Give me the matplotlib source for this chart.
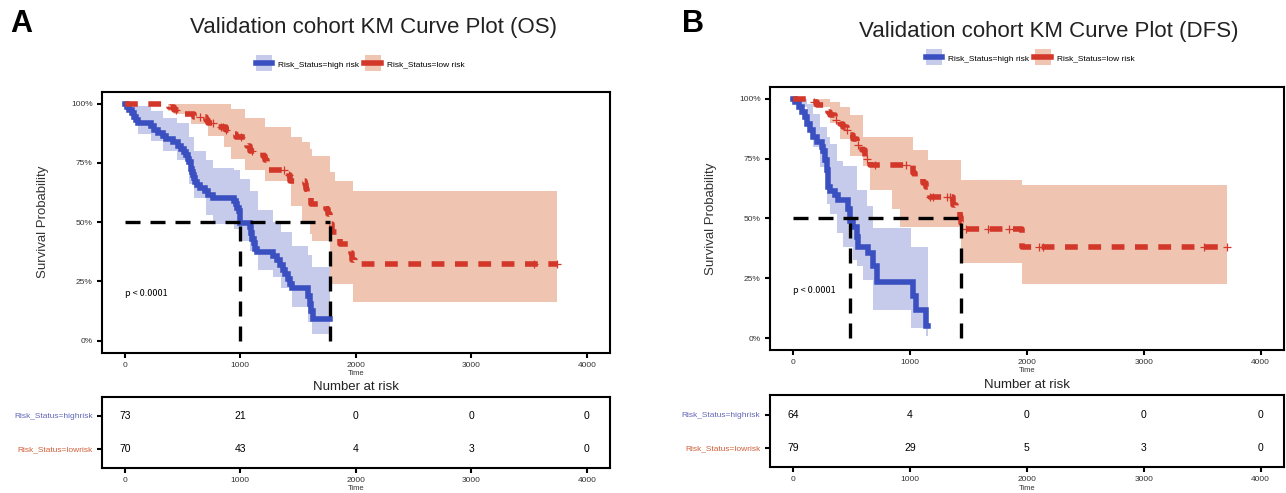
import numpy as np
import matplotlib
matplotlib.use('Agg')
import matplotlib.pyplot as plt
from matplotlib.lines import Line2D

plt.rcParams['font.family'] = ['Liberation Sans', 'DejaVu Sans']

# ---------------- data: OS (panel A) ----------------
os_hi_t = [0, 20, 40, 60, 80, 95, 110, 225, 250, 290, 330, 360, 420, 460, 490, 510, 530,
           545, 560, 575, 585, 590, 600, 610, 625, 650, 690, 720, 760, 945, 960, 975, 985,
           997, 1080, 1095, 1105, 1115, 1130, 1145, 1285, 1320, 1345, 1370, 1390, 1410,
           1430, 1445, 1590, 1605, 1615, 1625, 1780]
os_hi_s = [1.0, 0.986, 0.973, 0.959, 0.945, 0.932, 0.918, 0.904, 0.890, 0.877, 0.863,
           0.849, 0.836, 0.822, 0.808, 0.795, 0.781, 0.767, 0.753, 0.726, 0.712, 0.699,
           0.685, 0.671, 0.658, 0.644, 0.630, 0.616, 0.603, 0.589, 0.575, 0.561, 0.547,
           0.497, 0.480, 0.455, 0.430, 0.410, 0.385, 0.372, 0.355, 0.340, 0.320, 0.300,
           0.280, 0.260, 0.240, 0.220, 0.190, 0.155, 0.125, 0.090, 0.090]
os_hi_ci_t = [0, 60, 110, 225, 330, 450, 560, 600, 700, 760, 945, 1000, 1080, 1150, 1280,
              1350, 1450, 1590, 1620, 1780]
os_hi_ci_up = [1.0, 1.0, 0.99, 0.97, 0.94, 0.92, 0.86, 0.80, 0.76, 0.73, 0.72, 0.68, 0.63,
               0.55, 0.50, 0.46, 0.40, 0.36, 0.31, 0.31]
os_hi_ci_lo = [1.0, 0.93, 0.87, 0.84, 0.80, 0.76, 0.66, 0.60, 0.53, 0.49, 0.47, 0.42, 0.38,
               0.30, 0.27, 0.22, 0.14, 0.08, 0.03, 0.03]

os_lo_t = [0, 380, 430, 520, 600, 700, 720, 800, 880, 920, 960, 1050, 1060, 1080, 1200,
           1215, 1230, 1250, 1420, 1430, 1560, 1570, 1580, 1600, 1610, 1745, 1760, 1775,
           1790, 1850, 1860, 1960, 1970, 1990, 3745]
os_lo_s = [1.0, 0.986, 0.972, 0.958, 0.944, 0.930, 0.916, 0.902, 0.888, 0.872, 0.857,
           0.840, 0.820, 0.800, 0.780, 0.760, 0.740, 0.720, 0.700, 0.675, 0.660, 0.640,
           0.620, 0.600, 0.577, 0.555, 0.535, 0.490, 0.458, 0.430, 0.409, 0.370, 0.340,
           0.325, 0.325]
os_lo_ci_t = [0, 370, 430, 570, 720, 860, 920, 1040, 1210, 1440, 1530, 1600, 1620, 1775,
              1820, 1975, 3745]
os_lo_ci_up = [1, 1, 1, 1, 1, 1, 0.976, 0.94, 0.90, 0.857, 0.836, 0.808, 0.78, 0.71, 0.675,
               0.633, 0.633]
os_lo_ci_lo = [1, 0.97, 0.955, 0.913, 0.864, 0.815, 0.766, 0.72, 0.675, 0.57, 0.50, 0.45,
               0.42, 0.24, 0.24, 0.164, 0.164]
os_lo_censor = [440, 650, 760, 830, 850, 880, 1010, 1100, 1380, 1420, 3540, 3745]
os_medians = [997, 1775]
os_risk_high = [73, 21, 0, 0, 0]
os_risk_low = [70, 43, 4, 3, 0]

# ---------------- data: DFS (panel B) ----------------
dfs_hi_t = [0, 20, 50, 77, 105, 120, 148, 176, 204, 247, 261, 275, 290, 304, 318, 361, 389,
            474, 488, 517, 545, 560, 645, 687, 716, 1028, 1057, 1142, 1156]
dfs_hi_s = [1.0, 0.986, 0.965, 0.944, 0.924, 0.896, 0.868, 0.840, 0.820, 0.800, 0.780,
            0.743, 0.700, 0.632, 0.615, 0.597, 0.576, 0.540, 0.490, 0.465, 0.424, 0.382,
            0.354, 0.300, 0.236, 0.174, 0.118, 0.049, 0.049]
dfs_hi_ci_t = [0, 34, 119, 176, 233, 290, 318, 375, 432, 517, 545, 602, 630, 687, 1014, 1142, 1156]
dfs_hi_ci_up = [1.0, 1.0, 0.979, 0.9375, 0.88, 0.84, 0.81, 0.74, 0.72, 0.72, 0.618, 0.618,
                0.55, 0.458, 0.38, 0.38, 0.38]
dfs_hi_ci_lo = [1.0, 0.965, 0.88, 0.80, 0.715, 0.56, 0.52, 0.44, 0.38, 0.326, 0.30, 0.243,
                0.243, 0.118, 0.04, 0.007, 0.007]

dfs_lo_t = [0, 176, 204, 290, 300, 318, 360, 403, 430, 460, 490, 517, 545, 560, 588, 616,
            659, 1028, 1042, 1113, 1142, 1170, 1369, 1398, 1426, 1440, 1454, 1960, 3711]
dfs_lo_s = [1.0, 0.986, 0.972, 0.958, 0.944, 0.930, 0.910, 0.896, 0.882, 0.868, 0.850,
            0.833, 0.820, 0.806, 0.785, 0.750, 0.722, 0.688, 0.667, 0.646, 0.632, 0.590,
            0.555, 0.540, 0.507, 0.479, 0.456, 0.382, 0.382]
dfs_lo_ci_t = [0, 176, 318, 403, 488, 602, 659, 850, 914, 1028, 1156, 1426, 1441, 1960, 3711]
dfs_lo_ci_up = [1.0, 1.0, 0.986, 0.965, 0.93, 0.84, 0.84, 0.84, 0.84, 0.785, 0.743, 0.743,
                0.66, 0.639, 0.639]
dfs_lo_ci_lo = [1.0, 0.965, 0.90, 0.83, 0.76, 0.72, 0.618, 0.54, 0.465, 0.465, 0.465, 0.42,
                0.314, 0.226, 0.226]
dfs_lo_censor = [180, 365, 460, 560, 630, 700, 971, 1170, 1200, 1320, 1341, 1483, 1665,
                 1852, 2108, 2136, 3515, 3711]
dfs_medians = [488, 1441]
dfs_risk_high = [64, 4, 0, 0, 0]
dfs_risk_low = [79, 29, 5, 3, 0]

risk_times = [0, 1000, 2000, 3000, 4000]

BLUE = '#3a4fc0'
RED = '#d2372a'
BLUE_FILL = '#737fcf'
RED_FILL = '#d96e3c'
BLUE_KEY = '#c6cbec'
RED_KEY = '#f0c6b3'

W, H = 1286, 493
fig = plt.figure(figsize=(W / 100, H / 100), dpi=100)


def rect(l, t, r, b):
    return [l / W, 1 - b / H, (r - l) / W, (b - t) / H]


def style(ax):
    for s in ax.spines.values():
        s.set_linewidth(1.5)
        s.set_color('black')
    ax.tick_params(direction='out', length=3.5, width=1.5, color='black',
                   labelsize=6, labelcolor='#333333', pad=3)


def km_panel(box, tbox, title, tpos, hi, lo, censor, medians, rh, rl, letter, lx, legy):
    ax = fig.add_axes(rect(*box))
    (ht, hs, hct, hcu, hcl) = hi
    (lt, ls, lct, lcu, lcl) = lo
    ax.fill_between(hct, hcl, hcu, step='post', color=BLUE_FILL, alpha=0.4, lw=0)
    ax.fill_between(lct, lcl, lcu, step='post', color=RED_FILL, alpha=0.4, lw=0)
    ax.step(ht, hs, where='post', color=BLUE, lw=4, solid_joinstyle='miter')
    ax.step(lt, ls, where='post', color=RED, lw=4, linestyle=(0, (2.3, 1.9)))
    cy = [ls[np.searchsorted(lt, c, side='right') - 1] for c in censor]
    ax.plot(censor, cy, '+', color=RED, ms=6, mew=0.9)
    # median lines
    ax.plot([0, max(medians)], [0.5, 0.5], color='black', lw=2.4, linestyle=(0, (4.5, 3)))
    for m in medians:
        ax.plot([m, m], [0, 0.5], color='black', lw=2.4, linestyle=(0, (4.5, 3)))
    ax.text(0, 0.2, 'p < 0.0001', fontsize=6.5, ha='left', va='center',
            family=['Noto Sans CJK SC', 'DejaVu Sans'])
    ax.set_xlim(-200, 4200)
    ax.set_ylim(-0.05, 1.05)
    ax.set_xticks(risk_times)
    ax.set_yticks([0, 0.25, 0.5, 0.75, 1.0])
    ax.set_yticklabels(['0%', '25%', '50%', '75%', '100%'])
    ax.set_xlabel('Time', fontsize=5.5, labelpad=1, color='#333333')
    ax.set_ylabel('Survival Probability', fontsize=9.5, labelpad=16, color='#333333')
    style(ax)
    fig.text(tpos[0] / W, 1 - tpos[1] / H, title, fontsize=16, ha='center', va='center',
             color='#222222')
    handles = []
    for key, col in [(BLUE_KEY, BLUE), (RED_KEY, RED)]:
        sq = Line2D([], [], ls='none', marker='s', ms=11.5, mfc=key, mew=0)
        ln = Line2D([], [], color=col, lw=4)
        handles.append((sq, ln))
    ax.legend(handles, ['Risk_Status=high risk', 'Risk_Status=low risk'], ncol=2,
              loc='center', bbox_to_anchor=(legy[0] / W, 1 - legy[1] / H),
              bbox_transform=fig.transFigure, frameon=False, fontsize=6,
              handlelength=2.0, handleheight=1.2, columnspacing=0.6, handletextpad=0.7,
              borderpad=0, numpoints=1)
    fig.text(lx / W, 1 - 24 / H, letter, fontsize=22, fontweight='bold', ha='center',
             va='center')

    tb = fig.add_axes(rect(*tbox))
    for t, a, b in zip(risk_times, rh, rl):
        tb.text(t, 1, str(a), ha='center', va='center', fontsize=7.5)
        tb.text(t, 0, str(b), ha='center', va='center', fontsize=7.5)
    tb.set_xlim(-200, 4200)
    tb.set_ylim(-0.57, 1.585)
    tb.set_xticks(risk_times)
    tb.set_yticks([0, 1])
    tb.set_yticklabels(['Risk_Status=lowrisk', 'Risk_Status=highrisk'])
    style(tb)
    tb.get_yticklabels()[0].set_color('#d0603a')
    tb.get_yticklabels()[1].set_color('#6468b8')
    tb.set_xlabel('Time', fontsize=5.5, labelpad=1, color='#333333')
    tb.set_title('Number at risk', fontsize=9.5, pad=5, color='#222222')
    return ax


km_panel((101.7, 91.7, 610, 352.5), (101.7, 396.7, 610, 467.7),
         'Validation cohort KM Curve Plot (OS)', (374, 28),
         (os_hi_t, os_hi_s, os_hi_ci_t, os_hi_ci_up, os_hi_ci_lo),
         (os_lo_t, os_lo_s, os_lo_ci_t, os_lo_ci_up, os_lo_ci_lo),
         os_lo_censor, os_medians, os_risk_high, os_risk_low, 'A', 21, (360, 64))

km_panel((769.5, 86.7, 1284, 350), (769.5, 395, 1284, 467.3),
         'Validation cohort KM Curve Plot (DFS)', (1049, 31),
         (dfs_hi_t, dfs_hi_s, dfs_hi_ci_t, dfs_hi_ci_up, dfs_hi_ci_lo),
         (dfs_lo_t, dfs_lo_s, dfs_lo_ci_t, dfs_lo_ci_up, dfs_lo_ci_lo),
         dfs_lo_censor, dfs_medians, dfs_risk_high, dfs_risk_low, 'B', 693, (1030, 58))

fig.savefig('out.png', dpi=100)
